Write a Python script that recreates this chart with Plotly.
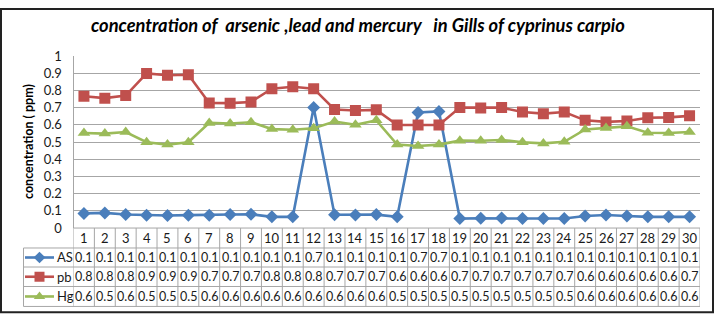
import plotly.graph_objects as go

W, H = 716, 323

stations = list(range(1, 31))
series_names = ["AS", "pb", "Hg"]
as_vals = [0.085, 0.088, 0.079, 0.074, 0.073, 0.075, 0.075, 0.079, 0.080, 0.065,
           0.065, 0.700, 0.077, 0.076, 0.078, 0.065, 0.672, 0.678, 0.055, 0.057,
           0.058, 0.055, 0.055, 0.055, 0.070, 0.076, 0.070, 0.065, 0.065, 0.065]
pb_vals = [0.766, 0.755, 0.770, 0.899, 0.888, 0.891, 0.727, 0.726, 0.733, 0.810,
           0.821, 0.810, 0.689, 0.683, 0.687, 0.599, 0.599, 0.599, 0.700, 0.698,
           0.700, 0.674, 0.665, 0.674, 0.626, 0.617, 0.622, 0.641, 0.643, 0.652]
hg_vals = [0.552, 0.549, 0.558, 0.499, 0.485, 0.499, 0.611, 0.608, 0.615, 0.575,
           0.571, 0.580, 0.619, 0.600, 0.626, 0.485, 0.477, 0.485, 0.508, 0.507,
           0.512, 0.499, 0.492, 0.501, 0.573, 0.582, 0.591, 0.554, 0.552, 0.558]
y_ticks = [0, 0.1, 0.2, 0.3, 0.4, 0.5, 0.6, 0.7, 0.8, 0.9, 1]
y_tick_labels = ["0", "0.1", "0.2", "0.3", "0.4", "0.5", "0.6", "0.7", "0.8", "0.9", "1"]

title_text = "concentration of  arsenic ,lead and mercury   in Gills of cyprinus carpio"
y_title = "concentration ( ppm)"

colors = ["#4A7EBB", "#C0504D", "#9BBB59"]
symbols = ["diamond", "square", "triangle-up"]
msizes = [10, 11, 11]
key_sizes = [9, 10, 10]
all_vals = [as_vals, pb_vals, hg_vals]

FONT = "Lato, Carlito, Calibri, sans-serif"
GRID = "#A6A6A6"
TXT = "#1a1a1a"

def px(x):
    return x / W

def py(y):
    return 1 - y / H

# plot area in pixels
PL, PR, PT, PB = 73.5, 700, 50.5, 231.5
ROWS = [231.5, 252.5, 272.5, 293.0, 314.0]
LEG_L = 23.5

fig = go.Figure()

for name, vals, c, s, ms in zip(series_names, all_vals, colors, symbols, msizes):
    fig.add_trace(go.Scatter(
        x=stations, y=vals, mode="lines+markers", name=name,
        line=dict(color=c, width=2.6),
        marker=dict(symbol=s, size=ms, color=c),
        showlegend=False, xaxis="x", yaxis="y"))

# legend keys inside the data table (separate full-page axes in pixel units)
for i, (c, s, ms) in enumerate(zip(colors, symbols, key_sizes)):
    yc = (ROWS[i + 1] + ROWS[i + 2]) / 2
    fig.add_trace(go.Scatter(
        x=[25, 54], y=[yc, yc], mode="lines", line=dict(color=c, width=2.6),
        showlegend=False, hoverinfo="skip", xaxis="x2", yaxis="y2"))
    fig.add_trace(go.Scatter(
        x=[39.5], y=[yc], mode="markers", marker=dict(symbol=s, size=ms, color=c),
        showlegend=False, hoverinfo="skip", xaxis="x2", yaxis="y2"))

shapes = []
# outer chart frame
shapes.append(dict(type="rect", xref="paper", yref="paper",
                   x0=px(1), x1=px(713), y0=py(320), y1=py(1),
                   line=dict(color="#222222", width=2)))
# table horizontal lines
for k, yy in enumerate(ROWS):
    x0 = PL if k == 0 else LEG_L
    shapes.append(dict(type="line", xref="paper", yref="paper",
                       x0=px(x0), x1=px(PR), y0=py(yy), y1=py(yy),
                       line=dict(color=GRID, width=1)))
# table vertical lines at category boundaries
for b in range(0, 31):
    shapes.append(dict(type="line", xref="x", yref="paper",
                       x0=b + 0.5, x1=b + 0.5, y0=py(ROWS[0]), y1=py(ROWS[-1]),
                       line=dict(color=GRID, width=1)))
shapes.append(dict(type="line", xref="paper", yref="paper",
                   x0=px(LEG_L), x1=px(LEG_L), y0=py(ROWS[1]), y1=py(ROWS[-1]),
                   line=dict(color=GRID, width=1)))

annotations = []
annotations.append(dict(text="<b><i>" + title_text + "</i></b>", xref="paper", yref="paper",
                        x=px(358), y=py(18), xanchor="center", yanchor="middle", showarrow=False,
                        font=dict(family=FONT, size=18.3, color="#000000")))
annotations.append(dict(text="<b>" + y_title + "</b>", xref="paper", yref="paper",
                        x=px(28), y=py(141), xanchor="center", yanchor="middle",
                        textangle=-90, showarrow=False,
                        font=dict(family=FONT, size=12.5, color="#000000")))
# category row
for st in stations:
    annotations.append(dict(text=str(st), xref="x", yref="paper", x=st,
                            y=py((ROWS[0] + ROWS[1]) / 2), xanchor="center", yanchor="middle",
                            showarrow=False,
                            font=dict(family=FONT, size=13, color=TXT)))
# value rows
for r, (name, vals) in enumerate(zip(series_names, all_vals)):
    yc = py((ROWS[r + 1] + ROWS[r + 2]) / 2)
    annotations.append(dict(text=name, xref="paper", yref="paper", x=px(55), y=yc,
                            xanchor="left", yanchor="middle", showarrow=False,
                            font=dict(family=FONT, size=13, color=TXT)))
    for st, v in zip(stations, vals):
        annotations.append(dict(text=f"{round(v, 1):.1f}", xref="x", yref="paper", x=st, y=yc,
                                xanchor="center", yanchor="middle", showarrow=False,
                                font=dict(family=FONT, size=12.5, color=TXT)))

fig.update_layout(
    width=W, height=H,
    margin=dict(l=0, r=0, t=0, b=0),
    paper_bgcolor="white", plot_bgcolor="rgba(0,0,0,0)",
    xaxis=dict(domain=[px(PL), px(PR)], range=[0.5, 30.5], showticklabels=False,
               showgrid=False, zeroline=False, showline=False, fixedrange=True),
    yaxis=dict(domain=[py(PB), py(PT)], range=[0, 1], tickvals=y_ticks, ticktext=y_tick_labels,
               showgrid=True, gridcolor=GRID, gridwidth=1, zeroline=False,
               showline=True, linecolor=GRID, linewidth=1,
               ticks="outside", ticklen=8, tickcolor="rgba(0,0,0,0)",
               tickfont=dict(family=FONT, size=13, color=TXT)),
    xaxis2=dict(domain=[0, 1], range=[0, W], visible=False, anchor="y2"),
    yaxis2=dict(domain=[0, 1], range=[H, 0], visible=False, anchor="x2"),
    shapes=shapes, annotations=annotations,
)

fig.write_html("out.html")
